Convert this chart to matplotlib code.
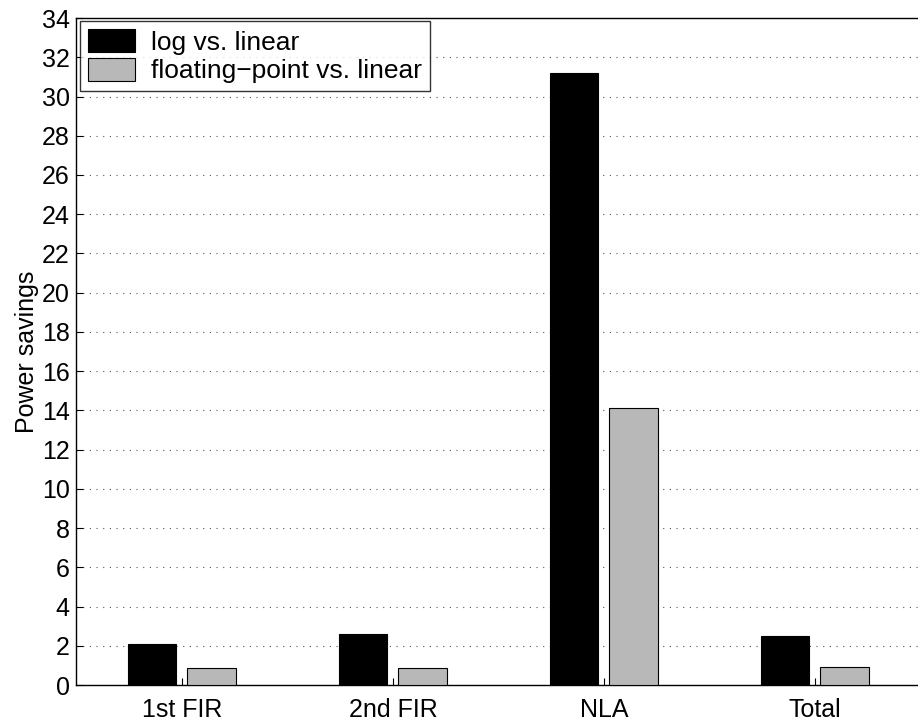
import numpy as np
import matplotlib
matplotlib.use("Agg")
import matplotlib.pyplot as plt

plt.rcParams['font.family'] = ['Liberation Sans', 'DejaVu Sans']

categories = ["1st FIR", "2nd FIR", "NLA", "Total"]
log_vs_linear = [2.09, 2.58, 31.18, 2.49]
float_vs_linear = [0.85, 0.88, 14.13, 0.93]
series_names = ["log vs. linear", "floating\u2212point vs. linear"]

fig = plt.figure(figsize=(9.18, 7.22), dpi=100)
ax = fig.add_axes([0.0833, 0.0512, 0.9194, 0.9238])

x = np.arange(1, len(categories) + 1)
width = 0.232
offset = 0.142
ax.bar(x - offset, log_vs_linear, width, color="black", edgecolor="black",
       linewidth=0.8, label=series_names[0], zorder=3)
ax.bar(x + offset, float_vs_linear, width, color="#b8b8b8", edgecolor="black",
       linewidth=0.8, label=series_names[1], zorder=3)

ax.set_xlim(0.5, 4.5)
ax.set_ylim(0, 34)
ax.set_yticks(np.arange(0, 35, 2))
ax.set_xticks(x)
ax.set_xticklabels(categories)
ax.tick_params(direction="in", labelsize=18, length=5, width=0.8,
               top=False, right=False, pad=5)
ax.tick_params(axis="x", pad=9)
ax.yaxis.grid(True, linestyle=(0, (1, 5)), color="#555555", linewidth=0.8)
ax.set_axisbelow(True)
for s in ax.spines.values():
    s.set_linewidth(1.0)

ax.set_ylabel("Power savings", fontsize=18, labelpad=2)

leg = ax.legend(loc="upper left", fontsize=19, frameon=True, fancybox=False,
                borderaxespad=0.12, handlelength=1.8, handleheight=0.95,
                handletextpad=0.6, borderpad=0.3, labelspacing=0.12)
leg.get_frame().set_edgecolor("black")
leg.get_frame().set_linewidth(1.0)

fig.savefig("out.png", dpi=100)
